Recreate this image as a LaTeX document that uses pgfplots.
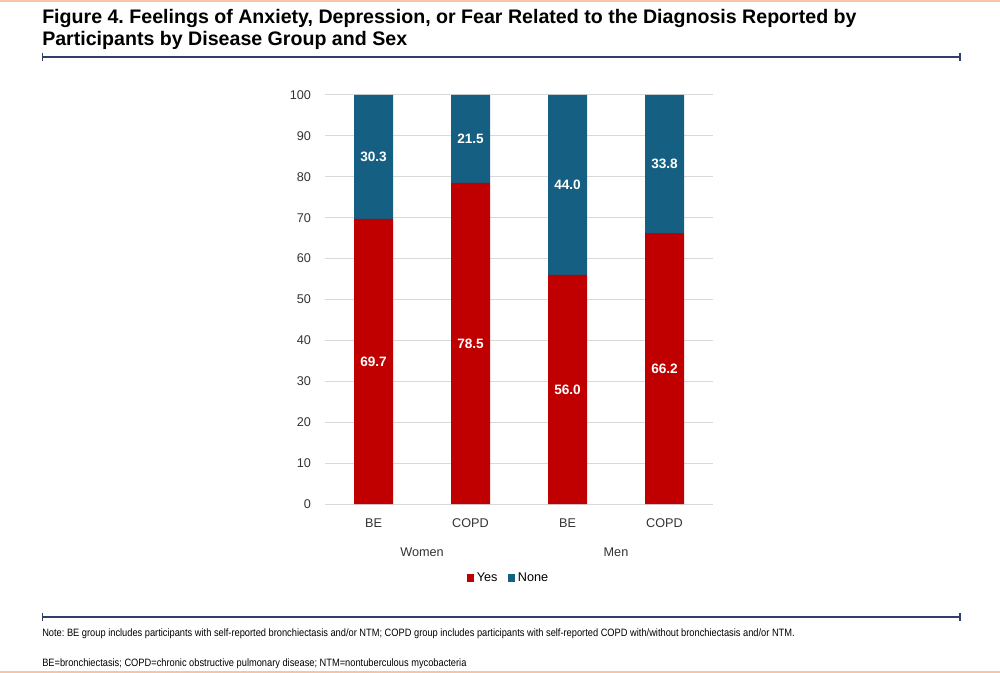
\documentclass[border=0pt]{standalone}
\usepackage{fontspec}
\setmainfont{Liberation Sans}
\newfontfamily\titlefont{Liberation Sans}
\newfontfamily\notefont[FakeStretch=0.87]{Liberation Sans}
\usepackage{pgfplots}
\pgfplotsset{compat=1.18}
\definecolor{cyes}{HTML}{C00000}
\definecolor{cnone}{HTML}{156082}
\definecolor{gridgray}{HTML}{D9D9D9}
\definecolor{tickgray}{HTML}{333333}
\definecolor{navy}{HTML}{2F3F68}
\definecolor{corange}{HTML}{F7C4A5}
\tikzset{dl/.style={font=\bfseries\fontsize{10.2}{12}\selectfont, text=white},
  gl/.style={font=\fontsize{9.5}{11}\selectfont, text=tickgray}}
\frenchspacing
\begin{document}
\begin{tikzpicture}
\begin{scope}[x=0.75pt,y=-0.75pt]
\path[use as bounding box] (0,0) rectangle (1000,673);
\fill[corange] (0,0) rectangle (1000,2);
\fill[corange] (0,670.5) rectangle (1000,672.5);
\node[anchor=base west, inner sep=0pt, font=\titlefont\bfseries\fontsize{14.7}{16}\selectfont] at (42,24) {Figure 4. Feelings of Anxiety, Depression, or Fear Related to the Diagnosis Reported by};
\node[anchor=base west, inner sep=0pt, font=\titlefont\bfseries\fontsize{14.7}{16}\selectfont] at (42,46) {Participants by Disease Group and Sex};
\draw[navy, line width=1.5pt] (42.5,57) -- (960,57);
\draw[navy, line width=1pt] (42.5,53) -- (42.5,61);
\draw[navy, line width=1pt] (960,53) -- (960,61);
\draw[navy, line width=1.5pt] (42.5,617) -- (960,617);
\draw[navy, line width=1pt] (42.5,613) -- (42.5,621);
\draw[navy, line width=1pt] (960,613) -- (960,621);
\node[anchor=base west, inner sep=0pt, font=\notefont\fontsize{8}{10}\selectfont] at (42,636) {Note: BE group includes participants with self-reported bronchiectasis and/or NTM; COPD group includes participants with self-reported COPD with/without bronchiectasis and/or NTM.};
\node[anchor=base west, inner sep=0pt, font=\notefont\fontsize{8}{10}\selectfont] at (42,666) {BE=bronchiectasis; COPD=chronic obstructive pulmonary disease; NTM=nontuberculous mycobacteria};
\end{scope}
\begin{axis}[
  at={(243.75pt,-378pt)}, anchor=south west,
  scale only axis, width=291pt, height=306.75pt,
  ybar stacked, bar width=29.25pt,
  xmin=-0.5, xmax=3.5, ymin=0, ymax=100,
  xtick={0,1,2,3}, xticklabels={BE,COPD,BE,COPD},
  ytick={0,10,...,100},
  ymajorgrids, grid style={color=gridgray, line width=0.75pt},
  axis line style={draw=none},
  major tick length=0pt,
  tick label style={font=\fontsize{9.5}{11}\selectfont, text=tickgray},
  yticklabel style={xshift=-7pt},
  xticklabel style={yshift=-7.3pt},
  /pgf/number format/assume math mode=true,
  legend style={at={(0.474,-0.181)}, anchor=center, draw=none, legend columns=2,
    font=\fontsize{9.5}{11}\selectfont,
    /tikz/every even column/.append style={column sep=6pt}},
  legend image code/.code={\fill[#1] (0pt,-2.7pt) rectangle (5.4pt,2.7pt);},
  clip=false,
]
\addplot[fill=cyes, draw=none] coordinates {(0,69.7) (1,78.5) (2,56.0) (3,66.2)};
\addplot[fill=cnone, draw=none] coordinates {(0,30.3) (1,21.5) (2,44.0) (3,33.8)};
\legend{Yes,None}
\coordinate (a1) at (axis cs:0,34.85);
\coordinate (a2) at (axis cs:1,39.25);
\coordinate (a3) at (axis cs:2,28.0);
\coordinate (a4) at (axis cs:3,33.1);
\coordinate (b1) at (axis cs:0,84.85);
\coordinate (b2) at (axis cs:1,89.25);
\coordinate (b3) at (axis cs:2,78.0);
\coordinate (b4) at (axis cs:3,83.1);
\node[gl, yshift=-36pt] at (axis cs:0.5,0) {Women};
\node[gl, yshift=-36pt] at (axis cs:2.5,0) {Men};
\end{axis}
\node[dl] at (a1) {69.7};
\node[dl] at (a2) {78.5};
\node[dl] at (a3) {56.0};
\node[dl] at (a4) {66.2};
\node[dl] at (b1) {30.3};
\node[dl] at (b2) {21.5};
\node[dl] at (b3) {44.0};
\node[dl] at (b4) {33.8};
\end{tikzpicture}
\end{document}
